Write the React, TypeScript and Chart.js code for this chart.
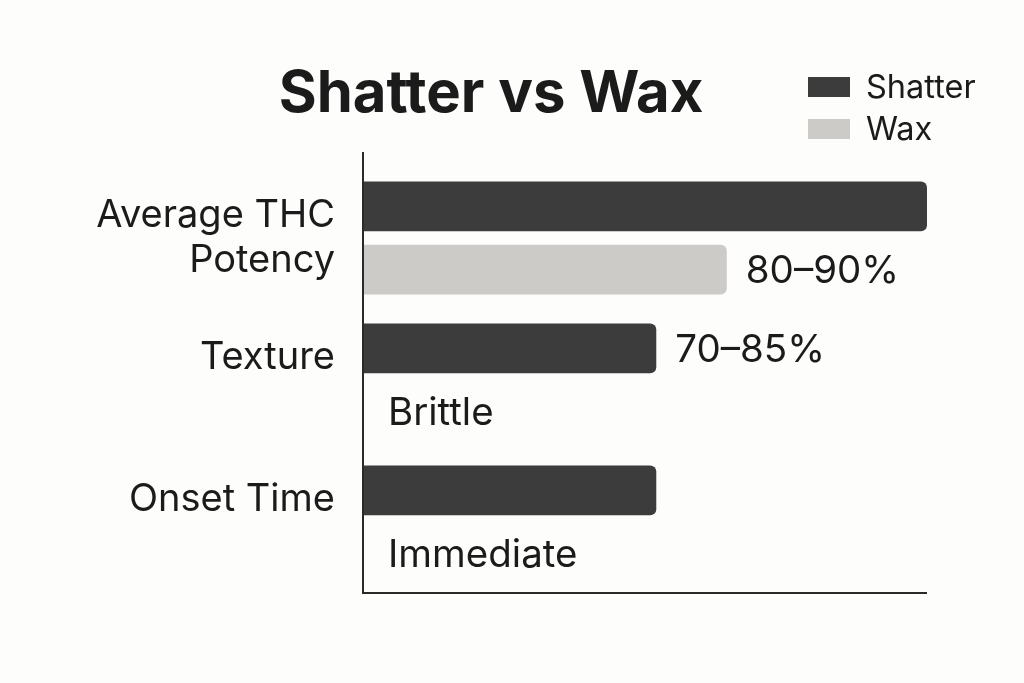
import React, { useEffect, useRef } from "react";
import { Chart, registerables } from "chart.js";

Chart.register(...registerables);

const categories: (string | string[])[] = [["Average THC", "Potency"], ["Texture", ""], ["Onset Time", ""]];
const seriesNames = ["Shatter", "Wax"];
const shatterValues: (number | null)[] = [100, 52, 52];
const waxValues: (number | null)[] = [64.5, null, null];
const shatterNotes: (string | null)[] = [null, "70–85%", null];
const waxNotes: (string | null)[] = ["80–90%", "Brittle", "Immediate"];
const titleText = "Shatter vs Wax";

const SHATTER = "#3c3c3c";
const WAX = "#cdcbc7";
const INK = "#1b1b1b";
const FONT = "Inter, 'Noto Sans', sans-serif";

const decorPlugin = {
  id: "decor",
  beforeDraw(chart: any) {
    const { ctx, width, height } = chart;
    ctx.save();
    ctx.fillStyle = "#fdfdfc";
    ctx.fillRect(0, 0, width, height);
    ctx.restore();
  },
  afterDatasetsDraw(chart: any) {
    const { ctx, chartArea } = chart;
    ctx.save();
    // axis lines
    ctx.strokeStyle = "#2a2a2a";
    ctx.lineWidth = 2;
    ctx.beginPath();
    ctx.moveTo(chartArea.left, chartArea.top - 15);
    ctx.lineTo(chartArea.left, chartArea.bottom);
    ctx.lineTo(chartArea.right, chartArea.bottom);
    ctx.stroke();

    // bar annotations
    ctx.fillStyle = INK;
    ctx.font = `38.5px ${FONT}`;
    ctx.textBaseline = "middle";
    ctx.textAlign = "left";
    const notes = [shatterNotes, waxNotes];
    const yScale = chart.scales.y;
    notes.forEach((arr, di) => {
      const meta = chart.getDatasetMeta(di);
      arr.forEach((txt, j) => {
        if (!txt) return;
        const el = meta.data[j] as any;
        const val = (di === 0 ? shatterValues : waxValues)[j];
        const y = el && isFinite(el.y) ? el.y : yScale.getPixelForValue(j);
        if (val === null || val === undefined) {
          ctx.fillText(txt, chartArea.left + 25, y + 2);
        } else {
          ctx.fillText(txt, el.x + 19, y + 2);
        }
      });
    });

    // title
    ctx.font = `bold 58px ${FONT}`;
    ctx.textAlign = "center";
    ctx.textBaseline = "alphabetic";
    ctx.fillText(titleText, 491, 112);

    // legend
    const colors = [SHATTER, WAX];
    ctx.font = `32.5px ${FONT}`;
    ctx.textAlign = "left";
    ctx.textBaseline = "middle";
    seriesNames.forEach((n, i) => {
      const y = 87 + i * 42;
      ctx.fillStyle = colors[i];
      ctx.fillRect(808, y - 10, 42, 20);
      ctx.fillStyle = INK;
      ctx.fillText(n, 866, y + 1);
    });
    ctx.restore();
  },
};

export default function App() {
  const ref = useRef<HTMLCanvasElement | null>(null);
  useEffect(() => {
    if (!ref.current) return;
    const chart = new Chart(ref.current, {
      type: "bar",
      data: {
        labels: categories as any,
        datasets: [
          {
            label: seriesNames[0],
            data: shatterValues,
            backgroundColor: SHATTER,
            borderRadius: 6,
            borderSkipped: "start",
            categoryPercentage: 0.89,
            barPercentage: 0.79,
          },
          {
            label: seriesNames[1],
            data: waxValues,
            backgroundColor: WAX,
            borderRadius: 6,
            borderSkipped: "start",
            categoryPercentage: 0.89,
            barPercentage: 0.79,
          },
        ],
      },
      options: {
        indexAxis: "y",
        animation: false,
        responsive: true,
        maintainAspectRatio: false,
        layout: { padding: { left: 0, right: 97, top: 167, bottom: 90 } },
        plugins: {
          legend: { display: false },
          title: { display: false },
          tooltip: { enabled: false },
        },
        scales: {
          x: { display: false, min: 0, max: 100 },
          y: {
            afterFit: (scale: any) => {
              scale.width = 363;
            },
            grid: { display: false, drawTicks: false },
            border: { display: false },
            ticks: {
              color: INK,
              padding: 28,
              font: { family: FONT, size: 38, lineHeight: 1.2 },
            },
          },
        },
      },
      plugins: [decorPlugin],
    });
    return () => chart.destroy();
  }, []);
  return (
    <div style={{ position: "fixed", left: 0, top: 0, width: "1024px", height: "683px", background: "#fdfdfc" }}>
      <canvas ref={ref} />
    </div>
  );
}
